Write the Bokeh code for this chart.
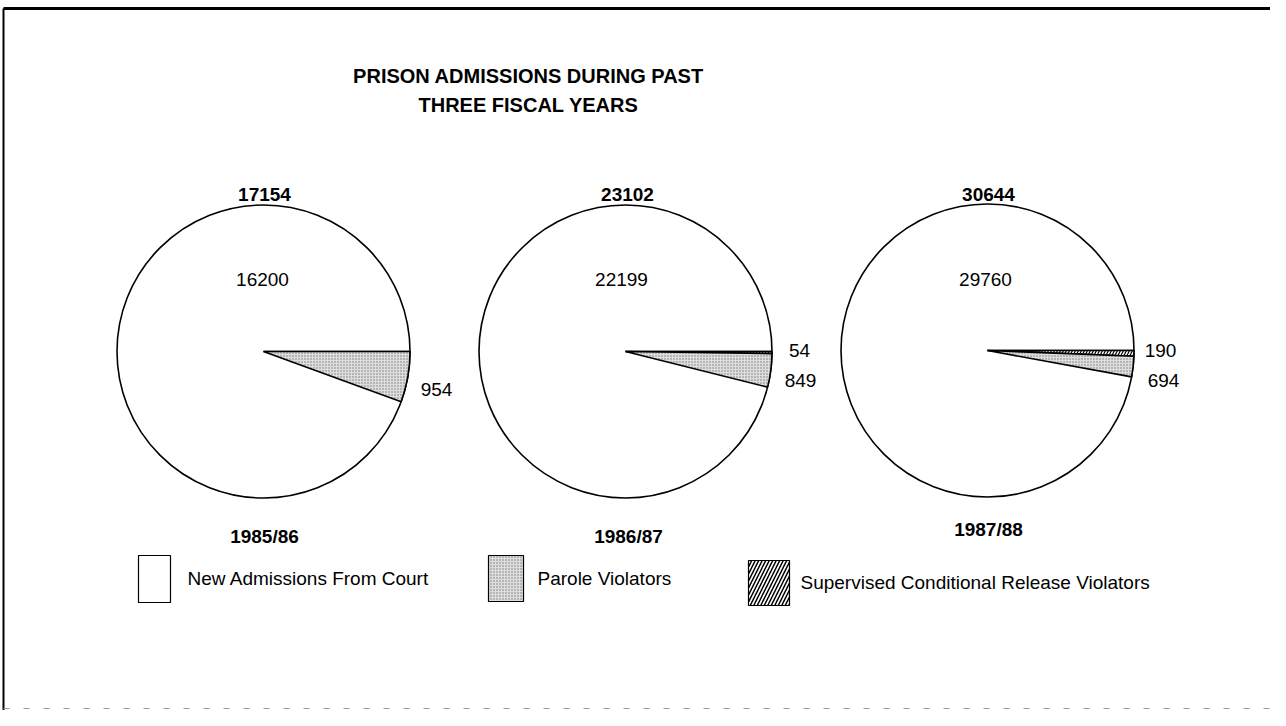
import math
from bokeh.plotting import figure
from bokeh.models import Range1d
from bokeh.core.properties import value
from bokeh.embed import file_html
from bokeh.resources import INLINE

# ---- data ----
years = ["1985/86", "1986/87", "1987/88"]
totals = [17154, 23102, 30644]
new_admissions = [16200, 22199, 29760]
scr_violators = [0, 54, 190]
parole_violators = [954, 849, 694]
legend_labels = ["New Admissions From Court", "Parole Violators",
                 "Supervised Conditional Release Violators"]
title_lines = ["PRISON ADMISSIONS DURING PAST", "THREE FISCAL YEARS"]

W, H = 1270, 710


def X(x):
    return x


def Y(y):
    return H - y


p = figure(width=W, height=H, output_backend="svg", toolbar_location=None,
           x_range=Range1d(0, W), y_range=Range1d(0, H), min_border=0)
p.axis.visible = False
p.grid.visible = False
p.outline_line_color = None
p.background_fill_color = "white"

FONT = value("Liberation Sans")

# border (top, left, faint bottom)
p.line([X(3), X(1270)], [Y(8), Y(8)], line_color="black", line_width=3)
p.line([X(3), X(3)], [Y(8), Y(710)], line_color="black", line_width=2)
p.line([X(3), X(1270)], [Y(708), Y(708)], line_color="#999999", line_width=1,
       line_dash="6 14")

# title
p.text(x=[X(528), X(528)], y=[Y(75), Y(104)], text=title_lines,
       text_font=FONT, text_font_style="bold", text_font_size="20px",
       text_align="center", text_baseline="middle", text_color="black")

centers = [(263, 351), (625, 351), (987, 350)]
R = 146.5

for i in range(3):
    cx, cy = centers[i]
    tot = totals[i]
    a_scr = 2 * math.pi * scr_violators[i] / tot
    a_par = 2 * math.pi * parole_violators[i] / tot
    p.wedge(x=[X(cx)], y=[Y(cy)], radius=R, start_angle=[0], end_angle=[2 * math.pi],
            fill_color="white", line_color="black", line_width=1.6)
    if scr_violators[i] > 0:
        p.wedge(x=[X(cx)], y=[Y(cy)], radius=R, start_angle=[-a_scr], end_angle=[0],
                fill_color="white", hatch_pattern="right_diagonal_line",
                hatch_color="black", hatch_scale=6, hatch_weight=1.2,
                line_color="black", line_width=1.6)
    p.wedge(x=[X(cx)], y=[Y(cy)], radius=R, start_angle=[-a_scr - a_par],
            end_angle=[-a_scr], fill_color="#dedede", hatch_pattern="dot",
            hatch_color="#777777", hatch_scale=3, hatch_weight=1,
            line_color="black", line_width=1.6)

NUM = "19px"
# total labels above pies
p.text(x=[X(264), X(627), X(988)], y=[Y(194), Y(194), Y(194)],
       text=[str(t) for t in totals], text_font=FONT, text_font_style="bold",
       text_font_size=NUM, text_align="center", text_baseline="middle")
# new admissions labels
p.text(x=[X(262), X(621), X(985)], y=[Y(279), Y(279), Y(279)],
       text=[str(v) for v in new_admissions], text_font=FONT,
       text_font_size=NUM, text_align="center", text_baseline="middle")
# parole labels
p.text(x=[X(436), X(800), X(1163)], y=[Y(389), Y(380), Y(380)],
       text=[str(v) for v in parole_violators], text_font=FONT,
       text_font_size=NUM, text_align="center", text_baseline="middle")
# scr labels
p.text(x=[X(799), X(1160)], y=[Y(350), Y(350)],
       text=[str(v) for v in scr_violators[1:]], text_font=FONT,
       text_font_size=NUM, text_align="center", text_baseline="middle")
# year labels
p.text(x=[X(264), X(628), X(988)], y=[Y(536), Y(536), Y(529)],
       text=years, text_font=FONT, text_font_style="bold",
       text_font_size=NUM, text_align="center", text_baseline="middle")

# legend boxes
p.quad(left=[X(138)], right=[X(170)], top=[Y(555)], bottom=[Y(602)],
       fill_color="white", line_color="black", line_width=1.2)
p.quad(left=[X(488)], right=[X(523)], top=[Y(555)], bottom=[Y(601)],
       fill_color="#dedede", hatch_pattern="dot", hatch_color="#777777",
       hatch_scale=3, hatch_weight=1, line_color="black", line_width=1.2)
p.quad(left=[X(748)], right=[X(789)], top=[Y(560)], bottom=[Y(605)],
       fill_color="white", hatch_pattern="right_diagonal_line", hatch_color="black",
       hatch_scale=7, hatch_weight=1.5, line_color="black", line_width=1.2)

p.text(x=[X(187), X(537), X(800)], y=[Y(578), Y(578), Y(582)],
       text=legend_labels, text_font=FONT, text_font_size="19px",
       text_align="left", text_baseline="middle")

open("out.html", "w").write(file_html(p, INLINE))
